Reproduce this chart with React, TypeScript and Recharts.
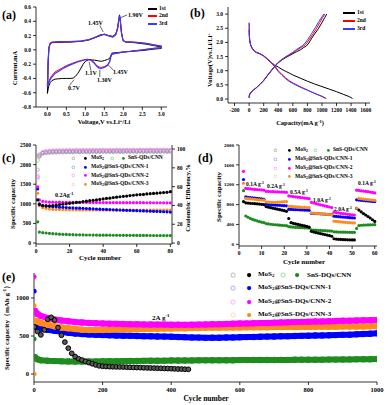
import React from 'react'
import { ScatterChart, Scatter, XAxis, YAxis, ReferenceLine } from 'recharts'

const FONT = '"Liberation Serif", "Times New Roman", serif'

// (a) cyclic voltammetry, [voltage, current]
const cv1st: [number, number][] = [
    [3.0, 0.02], [2.8, 0.01], [2.5, -0.01], [2.2, -0.02], [2.0, -0.03], [1.8, -0.04], [1.7, -0.045],
    [1.67, -0.08], [1.64, -0.12], [1.58, -0.135], [1.5, -0.15], [1.42, -0.16], [1.35, -0.155],
    [1.25, -0.145], [1.15, -0.14], [1.08, -0.14], [1.0, -0.16], [0.93, -0.21], [0.86, -0.28],
    [0.8, -0.33], [0.74, -0.37], [0.68, -0.395], [0.6, -0.4], [0.5, -0.4], [0.4, -0.4], [0.3, -0.405],
    [0.2, -0.41], [0.12, -0.43], [0.07, -0.46], [0.03, -0.52], [0.0, -0.61],
    [0.01, -0.45], [0.02, -0.2], [0.04, 0.02], [0.07, 0.08], [0.12, 0.1], [0.3, 0.105], [0.6, 0.11],
    [0.9, 0.12], [1.1, 0.14], [1.25, 0.17], [1.4, 0.2], [1.5, 0.22], [1.6, 0.2], [1.72, 0.19],
    [1.8, 0.22], [1.85, 0.31], [1.88, 0.42], [1.9, 0.49], [1.92, 0.42], [1.95, 0.25], [1.99, 0.14],
    [2.05, 0.11], [2.3, 0.1], [2.6, 0.08], [2.8, 0.06], [3.0, 0.04], [3.0, 0.02],
]
const cv2nd: [number, number][] = [
    [3.0, 0.03], [2.8, 0.02], [2.5, 0.0], [2.2, -0.02], [2.0, -0.03], [1.8, -0.05], [1.7, -0.06],
    [1.67, -0.09], [1.64, -0.16], [1.58, -0.21], [1.5, -0.235], [1.42, -0.245], [1.36, -0.24],
    [1.3, -0.22], [1.22, -0.17], [1.15, -0.14], [1.05, -0.13], [0.95, -0.14], [0.8, -0.16],
    [0.65, -0.19], [0.5, -0.22], [0.4, -0.25], [0.3, -0.28], [0.2, -0.31], [0.12, -0.36],
    [0.07, -0.4], [0.03, -0.45], [0.0, -0.5],
    [0.01, -0.35], [0.02, -0.15], [0.04, 0.03], [0.07, 0.09], [0.12, 0.105], [0.3, 0.11], [0.6, 0.11],
    [0.9, 0.12], [1.1, 0.14], [1.25, 0.17], [1.4, 0.21], [1.5, 0.22], [1.6, 0.2], [1.72, 0.18],
    [1.8, 0.21], [1.85, 0.3], [1.88, 0.41], [1.9, 0.47], [1.92, 0.4], [1.95, 0.24], [1.99, 0.13],
    [2.05, 0.11], [2.3, 0.105], [2.6, 0.09], [2.8, 0.07], [3.0, 0.05], [3.0, 0.03],
]
const cv3rd: [number, number][] = [
    [3.0, 0.03], [2.8, 0.02], [2.5, 0.0], [2.2, -0.02], [2.0, -0.03], [1.8, -0.05], [1.7, -0.06],
    [1.67, -0.1], [1.64, -0.17], [1.58, -0.22], [1.5, -0.245], [1.42, -0.26], [1.36, -0.255],
    [1.3, -0.23], [1.22, -0.18], [1.15, -0.145], [1.05, -0.135], [0.95, -0.145], [0.8, -0.17],
    [0.65, -0.2], [0.5, -0.235], [0.4, -0.265], [0.3, -0.3], [0.2, -0.33], [0.12, -0.38],
    [0.07, -0.42], [0.03, -0.47], [0.0, -0.52],
    [0.01, -0.36], [0.02, -0.15], [0.04, 0.03], [0.07, 0.09], [0.12, 0.11], [0.3, 0.115], [0.6, 0.115],
    [0.9, 0.125], [1.1, 0.145], [1.25, 0.175], [1.4, 0.21], [1.5, 0.215], [1.6, 0.2], [1.72, 0.18],
    [1.8, 0.21], [1.85, 0.3], [1.88, 0.42], [1.9, 0.48], [1.92, 0.41], [1.95, 0.24], [1.99, 0.13],
    [2.05, 0.115], [2.3, 0.11], [2.6, 0.09], [2.8, 0.07], [3.0, 0.055], [3.0, 0.03],
]

// (b) charge/discharge, [capacity, voltage]
const dis1st: [number, number][] = [
    [0, 2.45], [3, 2.2], [8, 2.05], [20, 1.92], [40, 1.8], [70, 1.7], [100, 1.65], [150, 1.6],
    [200, 1.52], [250, 1.4], [300, 1.3], [350, 1.2], [400, 1.13], [450, 1.05], [500, 0.98],
    [550, 0.92], [600, 0.85], [700, 0.74], [800, 0.63], [900, 0.53], [1000, 0.44], [1100, 0.35],
    [1200, 0.26], [1300, 0.16], [1380, 0.08], [1420, 0.02],
]
const dis2nd: [number, number][] = [
    [0, 2.7], [3, 2.3], [8, 2.1], [20, 1.93], [40, 1.8], [70, 1.7], [100, 1.65], [150, 1.6],
    [200, 1.53], [250, 1.43], [300, 1.3], [350, 1.18], [400, 1.0], [450, 0.87], [500, 0.75],
    [550, 0.65], [600, 0.57], [700, 0.44], [800, 0.32], [900, 0.2], [1000, 0.1], [1060, 0.02],
]
const dis3rd: [number, number][] = [
    [0, 2.68], [3, 2.28], [8, 2.08], [20, 1.92], [40, 1.79], [70, 1.69], [100, 1.64], [150, 1.59],
    [200, 1.52], [250, 1.42], [300, 1.28], [350, 1.15], [400, 0.97], [450, 0.84], [500, 0.72],
    [550, 0.62], [600, 0.55], [700, 0.42], [800, 0.31], [900, 0.2], [1000, 0.09], [1050, 0.02],
]
const chg1st: [number, number][] = [
    [0, 0.05], [3, 0.12], [10, 0.18], [30, 0.25], [60, 0.32], [100, 0.4], [150, 0.52], [200, 0.65],
    [250, 0.82], [300, 0.98], [350, 1.14], [400, 1.28], [450, 1.38], [500, 1.46], [550, 1.53],
    [600, 1.6], [650, 1.67], [700, 1.73], [750, 1.82], [790, 1.88], [820, 1.98], [860, 2.15],
    [900, 2.3], [950, 2.48], [1000, 2.7], [1040, 2.88], [1065, 3.0],
]
const chg2nd: [number, number][] = [
    [0, 0.05], [3, 0.12], [10, 0.18], [30, 0.25], [60, 0.32], [100, 0.4], [150, 0.52], [200, 0.66],
    [250, 0.83], [300, 0.99], [350, 1.15], [400, 1.29], [450, 1.39], [500, 1.48], [550, 1.55],
    [600, 1.63], [650, 1.72], [700, 1.8], [740, 1.86], [780, 1.94], [820, 2.08], [870, 2.27],
    [920, 2.47], [970, 2.7], [1010, 2.88], [1040, 3.0],
]
const chg3rd: [number, number][] = [
    [0, 0.05], [3, 0.12], [10, 0.18], [30, 0.25], [60, 0.32], [100, 0.4], [150, 0.52], [200, 0.66],
    [250, 0.83], [300, 1.0], [350, 1.16], [400, 1.3], [450, 1.4], [500, 1.49], [550, 1.57],
    [600, 1.65], [650, 1.75], [700, 1.83], [730, 1.88], [770, 1.98], [810, 2.12], [860, 2.32],
    [910, 2.53], [960, 2.75], [1000, 2.9], [1025, 3.0],
]

// (c) cycling at 0.2 A/g
const cyclesC = [1, 2, 4, 6, 8, 10, 12, 14, 16, 18, 20, 22, 24, 26, 28, 30, 32, 34, 36, 38, 40, 42, 44, 46, 48, 50, 52, 54, 56, 58, 60, 62, 64, 66, 68, 70, 72, 74, 76, 78, 80]
const mos2CapC = [1100, 980, 950, 945, 948, 955, 965, 980, 992, 1000, 1012, 1022, 1035, 1040, 1058, 1066, 1080, 1088, 1100, 1112, 1125, 1138, 1145, 1160, 1168, 1180, 1192, 1198, 1210, 1218, 1228, 1236, 1240, 1252, 1258, 1266, 1272, 1280, 1286, 1292, 1310]
const snsCapC = [540, 280, 265, 255, 246, 238, 232, 226, 222, 218, 215, 213, 210, 208, 207, 205, 204, 203, 202, 201, 200, 200, 199, 198, 198, 197, 196, 196, 195, 195, 194, 194, 193, 193, 192, 192, 191, 191, 190, 190, 189]
const cnn1CapC = [1380, 1000, 960, 945, 935, 928, 922, 915, 910, 905, 900, 896, 892, 888, 884, 880, 876, 872, 868, 864, 860, 856, 852, 848, 845, 842, 838, 835, 832, 828, 825, 822, 818, 815, 812, 808, 805, 802, 798, 795, 790]
const cnn2CapC = [1430, 1100, 1060, 1050, 1045, 1042, 1040, 1041, 1038, 1039, 1036, 1035, 1037, 1034, 1035, 1033, 1034, 1032, 1033, 1032, 1031, 1032, 1030, 1031, 1030, 1030, 1029, 1030, 1029, 1028, 1029, 1028, 1028, 1027, 1028, 1027, 1026, 1027, 1026, 1025, 1025]
const cnn3CapC = [1270, 950, 900, 880, 868, 860, 855, 852, 850, 848, 847, 846, 845, 845, 844, 844, 843, 843, 842, 842, 842, 841, 841, 841, 840, 840, 840, 840, 840, 839, 839, 839, 839, 838, 838, 838, 838, 838, 837, 837, 837]
const mos2CeC = [78, 92, 96, 97, 97.5, 97.8, 98, 98, 98.2, 98, 98.3, 98.1, 98.4, 98.2, 98.5, 98.3, 98.4, 98.6, 98.4, 98.5, 98.7, 98.5, 98.6, 98.4, 98.7, 98.6, 98.5, 98.8, 98.6, 98.7, 98.5, 98.8, 98.6, 98.7, 98.9, 98.6, 98.8, 98.7, 98.9, 98.7, 98.8]
const snsCeC = [88, 94, 96, 96.5, 97, 97, 97.2, 97.1, 97.3, 97.2, 97.4, 97.3, 97.5, 97.4, 97.5, 97.6, 97.4, 97.6, 97.5, 97.7, 97.6, 97.5, 97.7, 97.6, 97.8, 97.6, 97.7, 97.8, 97.6, 97.8, 97.7, 97.9, 97.7, 97.8, 97.9, 97.8, 97.9, 97.7, 98, 97.8, 97.9]
const cnn1CeC = [70, 93, 95.5, 96, 96.3, 96.5, 96.6, 96.8, 96.7, 96.9, 97, 96.8, 97.1, 96.9, 97.2, 97, 97.1, 97.3, 97.1, 97.2, 97.4, 97.2, 97.3, 97.1, 97.4, 97.3, 97.2, 97.5, 97.3, 97.4, 97.2, 97.5, 97.3, 97.4, 97.6, 97.3, 97.5, 97.4, 97.6, 97.4, 97.5]
const cnn2CeC = [72, 94, 97, 97.8, 98.2, 98.5, 98.6, 98.8, 98.7, 98.9, 99, 98.8, 99.1, 98.9, 99.1, 99, 98.9, 99.2, 99, 99.1, 99.2, 99, 99.1, 98.9, 99.2, 99.1, 99, 99.2, 99.1, 99.2, 99, 99.3, 99.1, 99.2, 99.3, 99.1, 99.2, 99.1, 99.3, 99.1, 99.2]
const cnn3CeC = [68, 92, 95, 95.6, 96, 96.2, 96.3, 96.5, 96.4, 96.6, 96.7, 96.5, 96.8, 96.6, 96.8, 96.7, 96.6, 96.9, 96.7, 96.8, 96.9, 96.7, 96.8, 96.6, 96.9, 96.8, 96.7, 97, 96.8, 96.9, 96.7, 97, 96.8, 96.9, 97, 96.8, 96.9, 96.8, 97, 96.8, 96.9]

// (d) rate capability
const cyclesD = [2, 3, 4, 5, 6, 7, 8, 9, 10, 11, 12, 13, 14, 15, 16, 17, 18, 19, 20, 21, 22, 23, 24, 25, 26, 27, 28, 29, 30, 31, 32, 33, 34, 35, 36, 37, 38, 39, 40, 41, 42, 43, 44, 45, 46, 47, 48, 49, 50, 51, 52, 53, 54, 55, 56, 57, 58, 59, 60]
const mos2D = [
    860, 835, 830, 826, 822, 818, 815, 810, 805, 800,
    760, 748, 738, 728, 718, 708, 698, 688, 678, 665,
    520, 435, 422, 410, 400, 390, 380, 370, 360, 345,
    262, 248, 236, 226, 216, 206, 196, 186, 175, 162,
    112, 106, 101, 98, 95, 93, 91, 90, 89, 88,
    725, 690, 655, 620, 590, 560, 530, 495, 460,
]
const snsD = [
    1080, 570, 545, 522, 502, 487, 472, 458, 446, 435,
    418, 410, 404, 399, 394, 390, 386, 382, 379, 375,
    355, 350, 346, 343, 340, 338, 335, 332, 330, 326,
    292, 288, 285, 282, 279, 276, 274, 271, 269, 266,
    252, 249, 247, 246, 245, 244, 243, 242, 241, 240,
    320, 378, 384, 387, 389, 391, 393, 394, 395,
]
const cnn1D = [
    1305, 955, 948, 942, 936, 930, 925, 920, 914, 906,
    808, 802, 798, 795, 791, 788, 785, 782, 779, 775,
    705, 702, 700, 698, 696, 694, 692, 690, 688, 685,
    625, 622, 619, 616, 613, 610, 607, 605, 602, 598,
    565, 561, 557, 553, 549, 545, 541, 537, 534, 530,
    895, 890, 885, 880, 876, 872, 868, 864, 860,
]
const cnn2D = [
    1470, 1125, 1120, 1115, 1110, 1106, 1102, 1099, 1096, 1092,
    1068, 1065, 1062, 1060, 1057, 1055, 1053, 1051, 1049, 1046,
    975, 968, 962, 956, 950, 944, 938, 932, 926, 920,
    845, 832, 820, 808, 796, 785, 774, 762, 751, 740,
    648, 640, 632, 625, 618, 611, 605, 599, 594, 590,
    1090, 1085, 1078, 1072, 1066, 1060, 1052, 1044, 1035,
]
const cnn3D = [
    1230, 925, 920, 915, 910, 905, 900, 896, 892, 888,
    852, 848, 845, 843, 845, 848, 852, 856, 860, 862,
    765, 762, 758, 755, 752, 749, 746, 743, 740, 737,
    632, 628, 624, 620, 616, 612, 608, 604, 600, 596,
    465, 460, 455, 450, 446, 442, 438, 435, 432, 430,
    730, 925, 918, 912, 906, 900, 895, 890, 885,
]

// (e) long cycling at 2 A/g
const cyclesE = [3, 10, 20, 40, 60, 80, 100, 120, 140, 160, 180, 200, 220, 240, 260, 280, 300, 320, 340, 360, 380, 400, 420, 440, 460, 480, 500, 520, 540, 560, 580, 600, 620, 640, 660, 680, 700, 720, 740, 760, 780, 800, 820, 840, 860, 880, 900, 920, 940, 960, 980, 1000]
const cnn2E = [830, 790, 765, 735, 718, 705, 695, 685, 678, 672, 668, 665, 662, 660, 658, 656, 655, 653, 652, 650, 650, 648, 648, 647, 648, 650, 652, 654, 656, 659, 662, 664, 666, 668, 670, 672, 675, 678, 680, 683, 686, 688, 690, 692, 694, 697, 700, 702, 704, 706, 709, 712]
const cnn3E = [700, 690, 672, 648, 628, 612, 602, 592, 583, 578, 578, 580, 583, 585, 587, 589, 590, 592, 594, 596, 598, 600, 602, 603, 605, 606, 608, 609, 610, 611, 612, 613, 614, 615, 615, 616, 617, 618, 618, 619, 620, 620, 621, 622, 622, 623, 624, 624, 625, 626, 627, 628]
const cnn1E = [640, 612, 598, 582, 568, 555, 543, 534, 527, 521, 516, 512, 509, 507, 504, 502, 500, 498, 496, 494, 492, 490, 488, 485, 482, 479, 476, 477, 478, 480, 482, 484, 486, 488, 490, 492, 494, 496, 498, 500, 502, 504, 506, 508, 510, 512, 515, 518, 522, 526, 530, 535]
const snsE = [220, 195, 182, 174, 170, 167, 166, 165, 165, 165, 166, 167, 168, 169, 170, 171, 172, 173, 174, 175, 176, 177, 178, 178, 179, 180, 180, 181, 181, 182, 182, 183, 183, 184, 184, 185, 185, 186, 186, 187, 187, 188, 188, 189, 190, 190, 191, 192, 193, 194, 195, 196]
const cyclesMos2E = [1, 10, 20, 30, 40, 50, 60, 70, 80, 90, 100, 110, 120, 130, 140, 150, 160, 170, 180, 190, 200, 210, 220, 230, 240, 250, 260, 270, 280, 290, 300, 310, 320, 330, 340, 350, 360, 370, 380, 390, 400, 410, 420, 430, 440, 450]
const mos2E = [620, 560, 515, 580, 720, 745, 710, 610, 510, 420, 340, 272, 228, 200, 184, 166, 150, 135, 120, 108, 102, 99, 97, 95, 94, 93, 92, 90, 88, 87, 85, 84, 82, 80, 79, 78, 76, 75, 73, 72, 70, 68, 66, 65, 63, 62]
const cnn2FirstE = [1280]
const cnn1FirstE = [1090]
const cnn3FirstE = [900, 0]
const snsFirstE = [460]

const C = {
    mos2: '#000000', sns: '#1e8c1e', cnn1: '#0000ff', cnn2: '#ff00ff', cnn3: '#ff8c1a',
    mos2o: '#8c8c8c', snso: '#5cc85c', cnn1o: '#7a7aff', cnn2o: '#ff7aff', cnn3o: '#ffc07a',
}

const tuples = (arr: [number, number][]) => arr.map(([x, y]) => ({ x, y }))
const zip = (xs: number[], ys: number[]) => xs.map((x, i) => ({ x, y: ys[i] }))
const atCycle = (cycle: number, ys: number[]) => ys.map((y) => ({ x: cycle, y }))

const axisLine = { stroke: '#000', strokeWidth: 0.8 }
const tick = (size: number) => ({ fontSize: size, fontFamily: FONT, fontWeight: 700, fill: '#000' })

const noDot = () => <g />
const filled = (r: number, color: string) => (p: any) => <circle cx={p.cx} cy={p.cy} r={r} fill={color} />
const ring = (r: number, color: string, sw = 0.6, fill = 'none') => (p: any) => (
    <circle cx={p.cx} cy={p.cy} r={r} fill={fill} stroke={color} strokeWidth={sw} />
)

function Txt({ x, y, size = 6, rot = false, center = false, children }: any) {
    const transform = rot ? 'translate(-50%, -50%) rotate(-90deg)' : center ? 'translate(-50%, -50%)' : 'translateY(-50%)'
    return (
        <div style={{
            position: 'absolute', left: x, top: y, transform, fontSize: size, fontFamily: FONT,
            fontWeight: 700, color: '#000', whiteSpace: 'nowrap', lineHeight: 1,
        }}>{children}</div>
    )
}

const Sub = ({ c }: { c: string }) => <span style={{ fontSize: '0.7em', verticalAlign: '-0.3em' }}>{c}</span>
const Sup = ({ c }: { c: string }) => <span style={{ fontSize: '0.7em', verticalAlign: '0.5em' }}>{c}</span>

function Marker({ x, y, r, color, open }: any) {
    return (
        <svg width={r * 2 + 2} height={r * 2 + 2} style={{ position: 'absolute', left: x - r - 1, top: y - r - 1, display: 'block' }}>
            <circle cx={r + 1} cy={r + 1} r={r} fill={open ? 'none' : color} stroke={open ? color : 'none'} strokeWidth={0.6} />
        </svg>
    )
}

function LineKey({ x, y, color, label, len = 10 }: any) {
    return (
        <>
            <div style={{ position: 'absolute', left: x, top: y - 0.6, width: len, height: 1.2, background: color }} />
            <Txt x={x + len + 2} y={y} size={5.5}>{label}</Txt>
        </>
    )
}

function Mos2Name({ tail }: { tail?: string }) {
    return <>MoS<Sub c="2" />{tail ?? ''}</>
}

function LegendRow({ x, y, gap1, gap2, r, openColor, color, children, size }: any) {
    return (
        <>
            <Marker x={x} y={y} r={r} color={openColor} open />
            <Marker x={x + gap1} y={y} r={r} color={color} />
            <Txt x={x + gap1 + gap2} y={y} size={size}>{children}</Txt>
        </>
    )
}

export default function App() {
    return (
        <div style={{ position: 'absolute', left: 0, top: 0, width: 390, height: 405, background: '#fff', overflow: 'hidden' }}>
            {/* (a) */}
            <div style={{ position: 'absolute', left: 0, top: 0 }}>
                <ScatterChart width={172} height={135} margin={{ top: 7, right: 5, bottom: 0, left: 0 }}>
                    <XAxis type="number" dataKey="x" domain={[-0.3, 3.15]} ticks={[0, 0.5, 1, 1.5, 2, 2.5, 3]}
                        tickFormatter={(v: number) => v.toFixed(1)} height={28} tick={tick(5.5)} tickSize={3}
                        axisLine={axisLine} tickLine={axisLine} interval={0} allowDataOverflow />
                    <YAxis type="number" dataKey="y" domain={[-0.8, 0.6]} ticks={[-0.8, -0.6, -0.4, -0.2, 0, 0.2, 0.4, 0.6]}
                        tickFormatter={(v: number) => v.toFixed(1)} width={36} tick={tick(5.5)} tickSize={3}
                        axisLine={axisLine} tickLine={axisLine} interval={0} allowDataOverflow />
                    <XAxis xAxisId="top" orientation="top" type="number" domain={[0, 1]} height={0} tick={false} tickLine={false} axisLine={axisLine} />
                    <YAxis yAxisId="box" orientation="right" type="number" domain={[0, 1]} width={0} tick={false} tickLine={false} axisLine={axisLine} />
                    <Scatter data={tuples(cv1st)} fill="#000" line={{ strokeWidth: 1 }} shape={noDot} isAnimationActive={false} />
                    <Scatter data={tuples(cv2nd)} fill="#ff0000" line={{ strokeWidth: 1 }} shape={noDot} isAnimationActive={false} />
                    <Scatter data={tuples(cv3rd)} fill="#3b3bff" line={{ strokeWidth: 1.2 }} shape={noDot} isAnimationActive={false} />
                    <ReferenceLine segment={[{ x: 1.38, y: 0.34 }, { x: 1.47, y: 0.25 }]} stroke="#000" strokeWidth={0.6} />
                    <ReferenceLine segment={[{ x: 2.1, y: 0.49 }, { x: 1.93, y: 0.45 }]} stroke="#000" strokeWidth={0.6} />
                    <ReferenceLine segment={[{ x: 1.15, y: -0.29 }, { x: 1.1, y: -0.17 }]} stroke="#000" strokeWidth={0.6} />
                    <ReferenceLine segment={[{ x: 1.38, y: -0.38 }, { x: 1.38, y: -0.28 }]} stroke="#000" strokeWidth={0.6} />
                    <ReferenceLine segment={[{ x: 1.75, y: -0.29 }, { x: 1.6, y: -0.21 }]} stroke="#000" strokeWidth={0.6} />
                    <ReferenceLine segment={[{ x: 0.58, y: -0.5 }, { x: 0.7, y: -0.42 }]} stroke="#000" strokeWidth={0.6} />
                </ScatterChart>
            </div>
            <Txt x={2} y={15} size={12}>(a)</Txt>
            <Txt x={15} y={68} size={6.5} rot>Current,mA</Txt>
            <Txt x={104} y={122} size={6.5} center>Voltage,V vs.Li<Sup c="+" />/Li</Txt>
            <Txt x={88} y={23} size={6}>1.45V</Txt>
            <Txt x={128} y={15} size={6}>1.90V</Txt>
            <Txt x={85} y={73} size={6}>1.1V</Txt>
            <Txt x={97} y={80} size={6}>1.30V</Txt>
            <Txt x={113} y={72} size={6}>1.45V</Txt>
            <Txt x={68} y={88} size={6}>0.7V</Txt>
            <LineKey x={148} y={9} color="#000" label="1st" len={9} />
            <LineKey x={148} y={16} color="#ff0000" label="2nd" len={9} />
            <LineKey x={148} y={24} color="#3b3bff" label="3rd" len={9} />

            {/* (b) */}
            <div style={{ position: 'absolute', left: 190, top: 0 }}>
                <ScatterChart width={185} height={135} margin={{ top: 7, right: 5, bottom: 0, left: 0 }}>
                    <XAxis type="number" dataKey="x" domain={[-290, 1660]} ticks={[-200, 0, 200, 400, 600, 800, 1000, 1200, 1400, 1600]}
                        height={32} tick={tick(5.5)} tickSize={3} axisLine={axisLine} tickLine={axisLine} interval={0} allowDataOverflow />
                    <YAxis type="number" dataKey="y" domain={[-0.14, 3.25]} ticks={[0, 0.5, 1, 1.5, 2, 2.5, 3]}
                        tickFormatter={(v: number) => v.toFixed(1)} width={38} tick={tick(5.5)} tickSize={3}
                        axisLine={axisLine} tickLine={axisLine} interval={0} allowDataOverflow />
                    <XAxis xAxisId="top" orientation="top" type="number" domain={[0, 1]} height={0} tick={false} tickLine={false} axisLine={axisLine} />
                    <YAxis yAxisId="box" orientation="right" type="number" domain={[0, 1]} width={0} tick={false} tickLine={false} axisLine={axisLine} />
                    <Scatter data={tuples(dis1st)} fill="#000" line={{ strokeWidth: 1 }} shape={noDot} isAnimationActive={false} />
                    <Scatter data={tuples(chg1st)} fill="#000" line={{ strokeWidth: 1 }} shape={noDot} isAnimationActive={false} />
                    <Scatter data={tuples(dis2nd)} fill="#ff0000" line={{ strokeWidth: 1 }} shape={noDot} isAnimationActive={false} />
                    <Scatter data={tuples(chg2nd)} fill="#ff0000" line={{ strokeWidth: 1 }} shape={noDot} isAnimationActive={false} />
                    <Scatter data={tuples(dis3rd)} fill="#3b3bff" line={{ strokeWidth: 1 }} shape={noDot} isAnimationActive={false} />
                    <Scatter data={tuples(chg3rd)} fill="#3b3bff" line={{ strokeWidth: 1 }} shape={noDot} isAnimationActive={false} />
                </ScatterChart>
            </div>
            <Txt x={190} y={13} size={12}>(b)</Txt>
            <Txt x={210} y={60} size={6.5} rot>Voltage(V)vs.Li/Li<Sup c="+" /></Txt>
            <Txt x={300} y={123} size={6.5} center>Capacity(mA g<Sup c="-1" />)</Txt>
            <LineKey x={343} y={13} color="#000" label="1st" len={12} />
            <LineKey x={343} y={21} color="#ff0000" label="2nd" len={12} />
            <LineKey x={343} y={29} color="#3b3bff" label="3rd" len={12} />

            {/* (c) */}
            <div style={{ position: 'absolute', left: 0, top: 140 }}>
                <ScatterChart width={195} height={125} margin={{ top: 5, right: 3, bottom: 0, left: 0 }}>
                    <XAxis type="number" dataKey="x" domain={[0, 81]} ticks={[0, 20, 40, 60, 80]} height={21}
                        tick={tick(5.5)} tickSize={3} axisLine={axisLine} tickLine={axisLine} interval={0} allowDataOverflow />
                    <YAxis type="number" dataKey="y" domain={[-25, 2500]} ticks={[0, 500, 1000, 1500, 2000, 2500]} width={36}
                        tick={tick(5.5)} tickSize={3} axisLine={axisLine} tickLine={axisLine} interval={0} allowDataOverflow />
                    <YAxis yAxisId="right" orientation="right" type="number" dataKey="y" domain={[-1, 104.3]} ticks={[0, 20, 40, 60, 80, 100]}
                        width={20} tick={tick(5.5)} tickSize={3} axisLine={axisLine} tickLine={axisLine} interval={0} allowDataOverflow />
                    <XAxis xAxisId="top" orientation="top" type="number" domain={[0, 1]} height={0} tick={false} tickLine={false} axisLine={axisLine} />
                    <Scatter yAxisId="right" data={zip(cyclesC, snsCeC)} shape={ring(1.7, C.snso)} isAnimationActive={false} />
                    <Scatter yAxisId="right" data={zip(cyclesC, cnn3CeC)} shape={ring(1.7, C.cnn3o)} isAnimationActive={false} />
                    <Scatter yAxisId="right" data={zip(cyclesC, cnn1CeC)} shape={ring(1.7, C.cnn1o)} isAnimationActive={false} />
                    <Scatter yAxisId="right" data={zip(cyclesC, mos2CeC)} shape={ring(1.7, C.mos2o)} isAnimationActive={false} />
                    <Scatter yAxisId="right" data={zip(cyclesC, cnn2CeC)} shape={ring(1.7, C.cnn2o)} isAnimationActive={false} />
                    <Scatter data={zip(cyclesC, snsCapC)} shape={filled(1.6, C.sns)} isAnimationActive={false} />
                    <Scatter data={zip(cyclesC, cnn3CapC)} shape={filled(1.6, C.cnn3)} isAnimationActive={false} />
                    <Scatter data={zip(cyclesC, cnn1CapC)} shape={filled(1.6, C.cnn1)} isAnimationActive={false} />
                    <Scatter data={zip(cyclesC, cnn2CapC)} shape={filled(1.6, C.cnn2)} isAnimationActive={false} />
                    <Scatter data={zip(cyclesC, mos2CapC)} shape={filled(1.6, C.mos2)} isAnimationActive={false} />
                </ScatterChart>
            </div>
            <Txt x={2} y={158} size={12}>(c)</Txt>
            <Txt x={13} y={204} size={7} rot>Specific capacity</Txt>
            <Txt x={188} y={198} size={6.5} rot>Coulombic Efficiency,%</Txt>
            <Txt x={100} y={258} size={7} center>Cycle number</Txt>
            <Txt x={55} y={195} size={6}>0.2Ag<Sup c="-1" /></Txt>
            <LegendRow x={73} y={158} gap1={12} gap2={6} r={1.4} openColor={C.mos2o} color={C.mos2} size={5.5}><Mos2Name /></LegendRow>
            <LegendRow x={112} y={158} gap1={11} gap2={5} r={1.4} openColor={C.snso} color={C.sns} size={5.5}>SnS-QDs/CNN</LegendRow>
            <LegendRow x={73} y={167} gap1={12} gap2={6} r={1.4} openColor={C.cnn1o} color={C.cnn1} size={5.5}><Mos2Name tail="@SnS-QDs/CNN-1" /></LegendRow>
            <LegendRow x={73} y={175.5} gap1={12} gap2={6} r={1.4} openColor={C.cnn2o} color={C.cnn2} size={5.5}><Mos2Name tail="@SnS-QDs/CNN-2" /></LegendRow>
            <LegendRow x={73} y={184} gap1={12} gap2={6} r={1.4} openColor={C.cnn3o} color={C.cnn3} size={5.5}><Mos2Name tail="@SnS-QDs/CNN-3" /></LegendRow>

            {/* (d) */}
            <div style={{ position: 'absolute', left: 195, top: 140 }}>
                <ScatterChart width={195} height={125} margin={{ top: 5, right: 13, bottom: 0, left: 0 }}>
                    <XAxis type="number" dataKey="x" domain={[0, 61]} ticks={[0, 10, 20, 30, 40, 50, 60]} height={19}
                        tick={tick(5.5)} tickSize={3} axisLine={axisLine} tickLine={axisLine} interval={0} allowDataOverflow />
                    <YAxis type="number" dataKey="y" domain={[-34, 2000]} ticks={[0, 400, 800, 1200, 1600, 2000]} width={44}
                        tick={tick(5)} tickSize={3} axisLine={axisLine} tickLine={axisLine} interval={0} allowDataOverflow />
                    <XAxis xAxisId="top" orientation="top" type="number" domain={[0, 1]} height={0} tick={false} tickLine={false} axisLine={axisLine} />
                    <YAxis yAxisId="box" orientation="right" type="number" domain={[0, 1]} width={0} tick={false} tickLine={false} axisLine={axisLine} />
                    <Scatter data={zip(cyclesD, snsD)} shape={filled(1.6, C.sns)} isAnimationActive={false} />
                    <Scatter data={zip(cyclesD, mos2D)} shape={filled(1.6, C.mos2)} isAnimationActive={false} />
                    <Scatter data={zip(cyclesD, cnn1D)} shape={filled(1.6, C.cnn1)} isAnimationActive={false} />
                    <Scatter data={zip(cyclesD, cnn3D)} shape={filled(1.6, C.cnn3)} isAnimationActive={false} />
                    <Scatter data={zip(cyclesD, cnn2D)} shape={filled(1.6, C.cnn2)} isAnimationActive={false} />
                </ScatterChart>
            </div>
            <Txt x={198} y={158} size={12}>(d)</Txt>
            <Txt x={219} y={197} size={7} rot>Specific capacity</Txt>
            <Txt x={304} y={262} size={7} center>Cycle number</Txt>
            <Txt x={246} y={185} size={5.5}>0.1A g<Sup c="-1" /></Txt>
            <Txt x={267} y={187} size={5.5}>0.2A g<Sup c="-1" /></Txt>
            <Txt x={290} y={193} size={5.5}>0.5A g<Sup c="-1" /></Txt>
            <Txt x={313} y={201} size={5.5}>1.0A g<Sup c="-1" /></Txt>
            <Txt x={334} y={210} size={5.5}>2.0A g<Sup c="-1" /></Txt>
            <Txt x={358} y={184} size={5.5}>0.1A g<Sup c="-1" /></Txt>
            <LegendRow x={275} y={150} gap1={14} gap2={6} r={1.4} openColor={C.mos2o} color={C.mos2} size={5.5}><Mos2Name /></LegendRow>
            <LegendRow x={315} y={150} gap1={13} gap2={5} r={1.4} openColor={C.snso} color={C.sns} size={5.5}>SnS-QDs/CNN</LegendRow>
            <LegendRow x={275} y={159} gap1={14} gap2={6} r={1.4} openColor={C.cnn1o} color={C.cnn1} size={5.5}><Mos2Name tail="@SnS-QDs/CNN-1" /></LegendRow>
            <LegendRow x={275} y={168} gap1={14} gap2={6} r={1.4} openColor={C.cnn2o} color={C.cnn2} size={5.5}><Mos2Name tail="@SnS-QDs/CNN-2" /></LegendRow>
            <LegendRow x={275} y={176.5} gap1={14} gap2={6} r={1.4} openColor={C.cnn3o} color={C.cnn3} size={5.5}><Mos2Name tail="@SnS-QDs/CNN-3" /></LegendRow>

            {/* (e) */}
            <div style={{ position: 'absolute', left: 0, top: 265 }}>
                <ScatterChart width={390} height={140} margin={{ top: 8, right: 13, bottom: 0, left: 0 }}>
                    <XAxis type="number" dataKey="x" domain={[0, 1000]} ticks={[0, 200, 400, 600, 800, 1000]} height={23}
                        tick={tick(6.5)} tickSize={3} axisLine={axisLine} tickLine={axisLine} interval={0} allowDataOverflow />
                    <YAxis type="number" dataKey="y" domain={[-105, 1329]} ticks={[0, 500, 1000]} width={34}
                        tick={tick(6.5)} tickSize={3} axisLine={axisLine} tickLine={axisLine} interval={0} allowDataOverflow />
                    <XAxis xAxisId="top" orientation="top" type="number" domain={[0, 1]} height={0} tick={false} tickLine={false} axisLine={axisLine} />
                    <YAxis yAxisId="box" orientation="right" type="number" domain={[0, 1]} width={0} tick={false} tickLine={false} axisLine={axisLine} />
                    <Scatter data={zip(cyclesE, snsE)} fill={C.sns} line={{ strokeWidth: 6, strokeLinecap: 'round' }} shape={filled(3.2, C.sns)} isAnimationActive={false} />
                    <Scatter data={zip(cyclesE, cnn1E)} fill={C.cnn1} line={{ strokeWidth: 6, strokeLinecap: 'round' }} shape={filled(3.2, C.cnn1)} isAnimationActive={false} />
                    <Scatter data={zip(cyclesE, cnn3E)} fill={C.cnn3} line={{ strokeWidth: 6, strokeLinecap: 'round' }} shape={filled(3.2, C.cnn3)} isAnimationActive={false} />
                    <Scatter data={zip(cyclesE, cnn2E)} fill={C.cnn2} line={{ strokeWidth: 6, strokeLinecap: 'round' }} shape={filled(3.2, C.cnn2)} isAnimationActive={false} />
                    <Scatter data={atCycle(1, cnn2FirstE)} shape={filled(2.3, C.cnn2)} isAnimationActive={false} />
                    <Scatter data={atCycle(1, cnn1FirstE)} shape={filled(2.3, C.cnn1)} isAnimationActive={false} />
                    <Scatter data={atCycle(1, cnn3FirstE)} shape={filled(2.3, C.cnn3)} isAnimationActive={false} />
                    <Scatter data={atCycle(1, snsFirstE)} shape={filled(2.3, C.sns)} isAnimationActive={false} />
                    <Scatter data={zip(cyclesMos2E, mos2E)} shape={ring(2.4, '#000', 1, '#5a5a5a')} isAnimationActive={false} />
                </ScatterChart>
            </div>
            <Txt x={2} y={277} size={12}>(e)</Txt>
            <Txt x={7} y={326} size={7} rot>Specific capacity（mAh g<Sup c="-1" />）</Txt>
            <Txt x={206} y={399} size={7.5} center>Cycle number</Txt>
            <Txt x={152} y={318} size={7}>2A g<Sup c="-1" /></Txt>
            <LegendRow x={233} y={275} gap1={16} gap2={9} r={2.1} openColor={C.mos2o} color={C.mos2} size={7}><Mos2Name /></LegendRow>
            <LegendRow x={283} y={275} gap1={14} gap2={10} r={2.1} openColor={C.snso} color={C.sns} size={7}>SnS-DQs/CNN</LegendRow>
            <LegendRow x={233} y={288} gap1={16} gap2={9} r={2.1} openColor={C.cnn1o} color={C.cnn1} size={7}><Mos2Name tail="@SnS-DQs/CNN-1" /></LegendRow>
            <LegendRow x={233} y={302} gap1={16} gap2={9} r={2.1} openColor={C.cnn2o} color={C.cnn2} size={7}><Mos2Name tail="@SnS-DQs/CNN-2" /></LegendRow>
            <LegendRow x={233} y={315} gap1={16} gap2={9} r={2.1} openColor={C.cnn3o} color={C.cnn3} size={7}><Mos2Name tail="@SnS-DQs/CNN-3" /></LegendRow>
        </div>
    )
}
